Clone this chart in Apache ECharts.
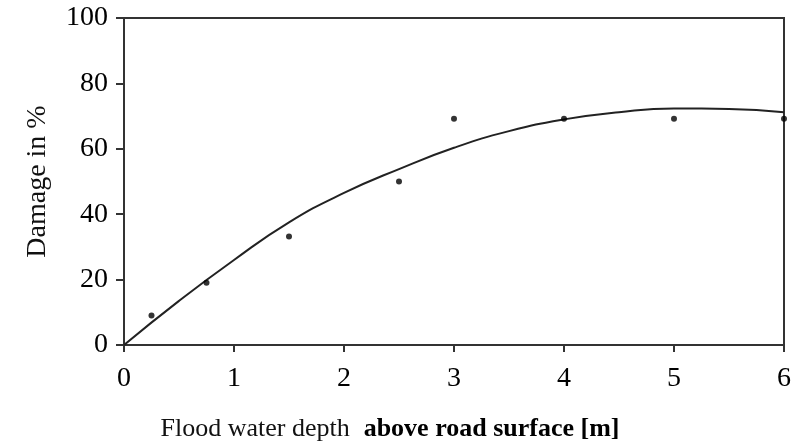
<!DOCTYPE html>
<html>
<head>
<meta charset="utf-8">
<script src="https://cdn.jsdelivr.net/npm/echarts@6/dist/echarts.min.js"></script>
<style>html,body{margin:0;padding:0;background:#fff}#c{width:794px;height:447px}</style>
</head>
<body>
<div id="c"></div>
<script>
// Observed data points (depth m, damage %)
const obsDepth = [0.25, 0.75, 1.5, 2.5, 3, 4, 5, 6];
const obsDamage = [9, 19, 33.2, 50, 69.2, 69.2, 69.2, 69.2];
// Fitted curve
const curveDepth = [0, 0.5, 1, 1.5, 2, 2.5, 3, 3.5, 4, 4.5, 5, 5.5, 6];
const curveDamage = [0, 13.5, 26, 37.5, 46.5, 53.8, 60.3, 65.4, 69, 71.2, 72.3, 72.2, 71.2];
const xTicks = [0, 1, 2, 3, 4, 5, 6];
const yTicks = [0, 20, 40, 60, 80, 100];

const serif = '"Liberation Serif", "DejaVu Serif", serif';
const chart = echarts.init(document.getElementById('c'), null, {renderer: 'canvas'});
chart.setOption({
  animation: false,
  backgroundColor: '#ffffff',
  grid: {left: 124, right: 8, top: 18, bottom: 100, show: true, borderColor: '#333', borderWidth: 2, backgroundColor: 'transparent'},
  xAxis: {
    type: 'value', min: xTicks[0], max: xTicks[xTicks.length - 1], interval: 1,
    axisLine: {show: true, onZero: false, lineStyle: {color: '#333', width: 2}},
    axisTick: {show: true, inside: false, length: 7, lineStyle: {color: '#333', width: 2}},
    axisLabel: {margin: 20, fontFamily: serif, fontSize: 28, color: '#000'},
    splitLine: {show: false},
    name: '{a|Flood water depth}{b|above road surface [m]}',
    nameLocation: 'middle', nameGap: 71,
    nameTextStyle: {
      padding: [0, 128, 0, 0],
      rich: {
        a: {fontFamily: serif, fontSize: 26, color: '#111'},
        b: {fontFamily: serif, fontSize: 26, fontWeight: 'bold', color: '#000', padding: [0, 0, 0, 14]}
      }
    }
  },
  yAxis: {
    type: 'value', min: yTicks[0], max: yTicks[yTicks.length - 1], interval: 20,
    axisLine: {show: true, onZero: false, lineStyle: {color: '#333', width: 2}},
    axisTick: {show: true, inside: false, length: 8, lineStyle: {color: '#333', width: 2}},
    axisLabel: {margin: 16, fontFamily: serif, fontSize: 28, color: '#000'},
    splitLine: {show: false},
    name: 'Damage in %', nameLocation: 'middle', nameRotate: 90, nameGap: 72,
    nameTextStyle: {fontFamily: serif, fontSize: 28, color: '#111'}
  },
  series: [
    {
      type: 'line', smooth: true, showSymbol: false,
      data: curveDepth.map((x, i) => [x, curveDamage[i]]),
      lineStyle: {color: '#222', width: 2},
      z: 2
    },
    {
      type: 'scatter', symbol: 'circle', symbolSize: 6,
      data: obsDepth.map((x, i) => [x, obsDamage[i]]),
      itemStyle: {color: '#000'},
      z: 3
    }
  ]
});
</script>
</body>
</html>
